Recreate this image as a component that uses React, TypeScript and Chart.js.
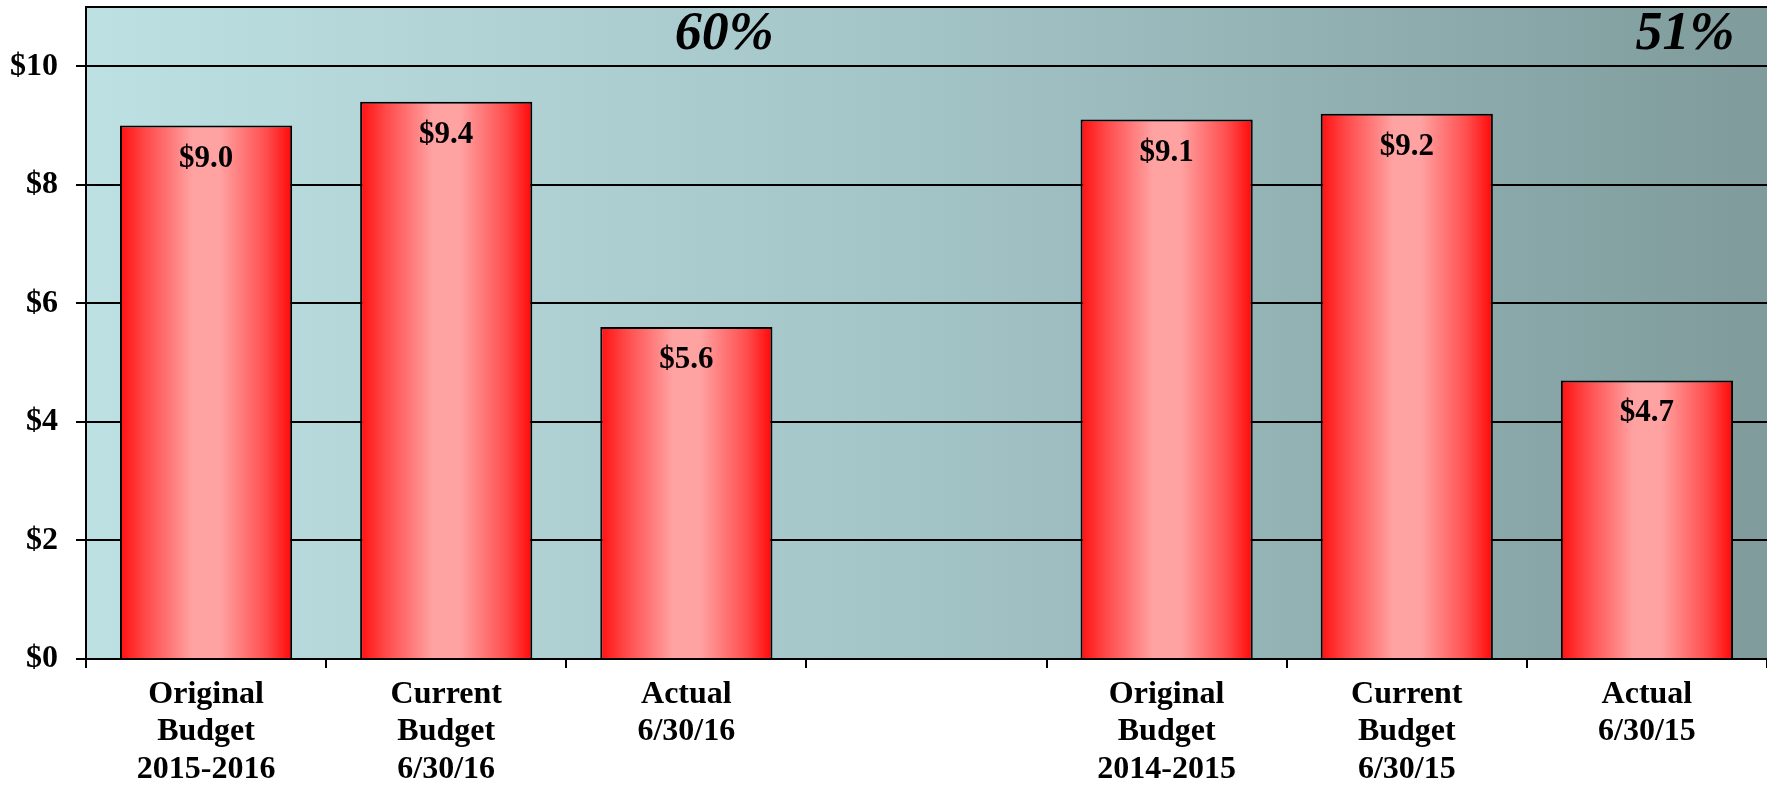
import React, { useEffect, useRef } from 'react';
import { Chart, registerables } from 'chart.js';

Chart.register(...registerables);

const categories = [
  ['Original', 'Budget', '2015-2016'],
  ['Current', 'Budget', '6/30/16'],
  ['Actual', '6/30/16'],
  [''],
  ['Original', 'Budget', '2014-2015'],
  ['Current', 'Budget', '6/30/15'],
  ['Actual', '6/30/15'],
];
const amounts = [9.0, 9.4, 5.6, null, 9.1, 9.2, 4.7];
const percentLabels = ['60%', '51%'];
const percentAt = [2, 6];
const yTicks = [0, 2, 4, 6, 8, 10];

const FONT = '"Liberation Serif", "Times New Roman", serif';

// fond dégradé + bord haut + étiquettes
const decorPlugin = {
  id: 'decor',
  beforeDraw(chart: any) {
    const { ctx, chartArea } = chart;
    if (!chartArea) return;
    const g = ctx.createLinearGradient(chartArea.left, 0, chartArea.right, 0);
    g.addColorStop(0, '#bde0e3');
    g.addColorStop(0.5, '#a3c4c7');
    g.addColorStop(1, '#7f9b9c');
    ctx.save();
    ctx.fillStyle = g;
    ctx.fillRect(chartArea.left, chartArea.top, chartArea.right - chartArea.left, chartArea.bottom - chartArea.top);
    ctx.restore();
  },
  afterDraw(chart: any) {
    const { ctx, chartArea } = chart;
    ctx.save();
    ctx.strokeStyle = '#000';
    ctx.lineWidth = 2;
    ctx.beginPath();
    ctx.moveTo(chartArea.left - 1, chartArea.top);
    ctx.lineTo(chartArea.right + 2, chartArea.top);
    ctx.stroke();

    // valeurs dans les barres
    const meta = chart.getDatasetMeta(0);
    ctx.fillStyle = '#000';
    ctx.textAlign = 'center';
    ctx.textBaseline = 'middle';
    ctx.font = `bold 31px ${FONT}`;
    meta.data.forEach((bar: any, i: number) => {
      const v = amounts[i];
      if (v == null) return;
      ctx.fillText(`$${v.toFixed(1)}`, bar.x, bar.y + 33);
    });

    // pourcentages en haut
    ctx.font = `italic bold 54px ${FONT}`;
    const xs = chart.scales.x;
    percentLabels.forEach((t, k) => {
      ctx.fillText(t, xs.getPixelForValue(percentAt[k]) + 38, chartArea.top + 28);
    });
    ctx.restore();
  },
};

const App: React.FC = () => {
  const canvasRef = useRef<HTMLCanvasElement>(null);
  const chartRef = useRef<Chart | null>(null);

  useEffect(() => {
    if (!canvasRef.current) return;
    if (chartRef.current) chartRef.current.destroy();

    chartRef.current = new Chart(canvasRef.current, {
      type: 'bar',
      data: {
        labels: categories,
        datasets: [
          {
            data: amounts,
            borderColor: '#000',
            borderWidth: 2,
            barPercentage: 0.717,
            categoryPercentage: 1,
            backgroundColor: (c: any) => {
              const chart = c.chart;
              const xs = chart.scales.x;
              if (!chart.chartArea || !xs) return '#ff6060';
              const cx = xs.getPixelForValue(c.dataIndex);
              const w = (xs.width / categories.length) * 0.717;
              const g = chart.ctx.createLinearGradient(cx - w / 2, 0, cx + w / 2, 0);
              g.addColorStop(0, '#ff1010');
              g.addColorStop(0.15, '#ff4a4a');
              g.addColorStop(0.42, '#ffa2a2');
              g.addColorStop(0.58, '#ffa2a2');
              g.addColorStop(0.85, '#ff4e4e');
              g.addColorStop(1, '#ff0808');
              return g;
            },
          },
        ],
      },
      options: {
        animation: false,
        responsive: true,
        maintainAspectRatio: false,
        layout: { padding: { top: 7, right: 0, left: 0, bottom: 0 } },
        plugins: {
          legend: { display: false },
          tooltip: { enabled: false },
        },
        scales: {
          x: {
            offset: true,
            grid: {
              offset: true,
              drawOnChartArea: false,
              drawTicks: true,
              tickLength: 9,
              color: '#000',
              lineWidth: 2,
            },
            border: { display: true, color: '#000', width: 2 },
            ticks: {
              color: '#000',
              padding: 8,
              maxRotation: 0,
              autoSkip: false,
              font: { family: FONT, size: 32, weight: 'bold', lineHeight: 1.17 },
            },
            afterFit: (s: any) => {
              s.height = 127;
              s.paddingLeft = 0;
              s.paddingRight = 0;
            },
          },
          y: {
            min: 0,
            max: 11,
            afterBuildTicks: (s: any) => {
              s.ticks = yTicks.map((v) => ({ value: v }));
            },
            grid: {
              color: '#000',
              lineWidth: 2,
              tickLength: 10,
            },
            border: { display: true, color: '#000', width: 2 },
            ticks: {
              color: '#000',
              padding: 18,
              font: { family: FONT, size: 32, weight: 'bold' },
              callback: (v: any) => `$${v}`,
            },
            afterFit: (s: any) => {
              s.width = 86;
              s.paddingTop = 0;
              s.paddingBottom = 0;
            },
          },
        },
      },
      plugins: [decorPlugin],
    });

    return () => {
      if (chartRef.current) {
        chartRef.current.destroy();
        chartRef.current = null;
      }
    };
  }, []);

  return (
    <div style={{ position: 'fixed', left: 0, top: 0, width: 1767, height: 786, background: '#fff', overflow: 'hidden' }}>
      <canvas ref={canvasRef}></canvas>
    </div>
  );
};

export default App;
